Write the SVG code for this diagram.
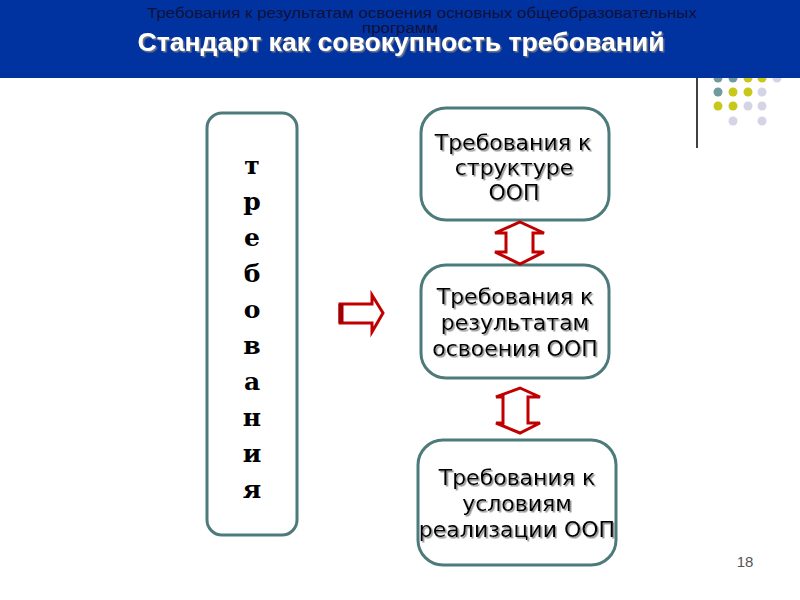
<svg xmlns="http://www.w3.org/2000/svg" width="800" height="600" viewBox="0 0 800 600">
<defs>
<style>
.box{fill:#fff;stroke:#4d7a7a;stroke-width:3}
.bt{font-family:"DejaVu Sans",Verdana,sans-serif;font-size:22px;fill:#000;text-anchor:middle}
.lt{font-family:"DejaVu Serif","Liberation Serif",serif;font-weight:bold;font-size:25px;fill:#000;text-anchor:middle}
.arr{fill:#fff;stroke:#c00000;stroke-width:3;stroke-linejoin:miter}
.dt{fill:#6f9a9e}.dy{fill:#c8c81a}.dl{fill:#d4d4e6}
</style>
<filter id="ts" x="-10%" y="-10%" width="120%" height="130%"><feDropShadow dx="1.5" dy="1.5" stdDeviation="0.6" flood-color="#808080" flood-opacity="0.9"/></filter>
</defs>
<rect width="800" height="600" fill="#fff"/>
<g id="decor">
<line x1="697" y1="78" x2="697" y2="148" stroke="#000" stroke-width="1.5"/>
<circle class="dt" cx="718" cy="78" r="4.5"/><circle class="dt" cx="733" cy="78" r="4.5"/><circle class="dy" cx="748" cy="78" r="4.5"/><circle class="dy" cx="762" cy="78" r="4.5"/><circle class="dl" cx="777" cy="78" r="4.5"/>
<circle class="dt" cx="718" cy="92" r="4.5"/><circle class="dy" cx="733" cy="92" r="4.5"/><circle class="dy" cx="748" cy="92" r="4.5"/><circle class="dl" cx="762" cy="92" r="4.5"/>
<circle class="dy" cx="718" cy="106" r="4.5"/><circle class="dy" cx="733" cy="106" r="4.5"/><circle class="dl" cx="748" cy="106" r="4.5"/><circle class="dl" cx="762" cy="106" r="4.5"/>
<circle class="dl" cx="733" cy="121" r="4.5"/><circle class="dl" cx="762" cy="121" r="4.5"/>
</g>
<g id="header">
<rect x="0" y="0" width="800" height="78" fill="#0033a0"/>
<text x="422" y="18" font-family="Liberation Sans,Arial,sans-serif" font-size="15" fill="#10103a" text-anchor="middle" textLength="550" lengthAdjust="spacingAndGlyphs">Требования к результатам освоения основных общеобразовательных</text>
<text x="400" y="33" font-family="Liberation Sans,Arial,sans-serif" font-size="15" fill="#10103a" text-anchor="middle" textLength="76" lengthAdjust="spacingAndGlyphs">программ</text>
<text x="401" y="51" font-family="Liberation Sans,Arial,sans-serif" font-size="25" font-weight="bold" fill="#fff" text-anchor="middle" filter="url(#ts)" textLength="527" lengthAdjust="spacingAndGlyphs">Стандарт как совокупность требований</text>
</g>
<g id="left">
<rect class="box" x="207" y="113" width="90" height="422" rx="15"/>
<text class="lt" x="252" y="174">т</text>
<text class="lt" x="252" y="210">р</text>
<text class="lt" x="252" y="246">е</text>
<text class="lt" x="252" y="282">б</text>
<text class="lt" x="252" y="318">о</text>
<text class="lt" x="252" y="354">в</text>
<text class="lt" x="252" y="390">а</text>
<text class="lt" x="252" y="426">н</text>
<text class="lt" x="252" y="462">и</text>
<text class="lt" x="252" y="498">я</text>
</g>
<g id="box1">
<rect class="box" x="421" y="108" width="188" height="112" rx="25"/>
<g filter="url(#ts)"><text class="bt" x="513" y="150">Требования к</text><text class="bt" x="514" y="175">структуре</text><text class="bt" x="514" y="200">ООП</text></g>
</g>
<g id="box2">
<rect class="box" x="421" y="265" width="188" height="113" rx="25"/>
<g filter="url(#ts)"><text class="bt" x="515" y="304">Требования к</text><text class="bt" x="515" y="330">результатам</text><text class="bt" x="515" y="356">освоения ООП</text></g>
</g>
<g id="box3">
<rect class="box" x="418" y="440" width="198" height="125" rx="25"/>
<g filter="url(#ts)"><text class="bt" x="517" y="485">Требования к</text><text class="bt" x="517" y="511">условиям</text><text class="bt" x="517" y="537">реализации ООП</text></g>
</g>
<g id="connectors">
<path class="arr" d="M340,304 H372 V295 L383,313 L372,332 V323 H340 Z"/>
<line x1="341" y1="304" x2="341" y2="323" stroke="#a00000" stroke-width="5"/>
<path class="arr" d="M520,222 L544,233 H533 V252 H544 L520,264 L495,252 H506 V233 H495 Z"/>
<path class="arr" d="M520,388 L540,397 H528 V423 H540 L520,433 L496,423 H503 V397 H496 Z"/>
</g>
<text x="745" y="567" font-family="Liberation Sans,Arial,sans-serif" font-size="15" fill="#555" text-anchor="middle">18</text>
</svg>
